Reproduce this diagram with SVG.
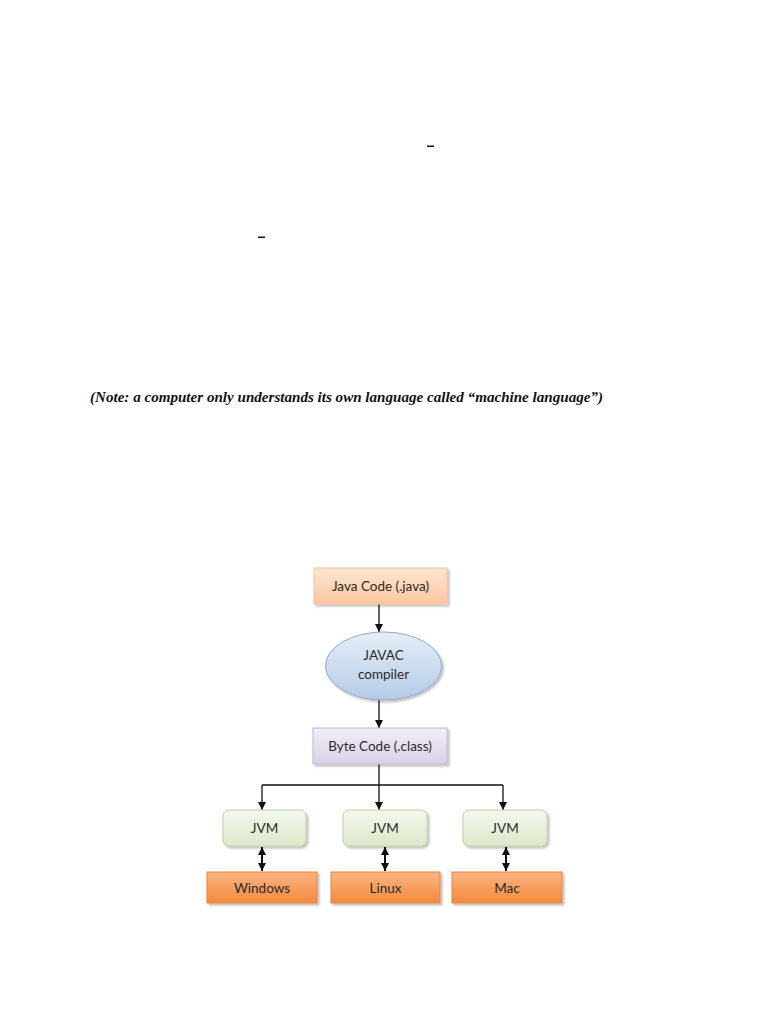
<svg xmlns="http://www.w3.org/2000/svg" width="768" height="1024" viewBox="0 0 768 1024">
<defs>
<linearGradient id="gPeach" x1="0" y1="0" x2="0" y2="1"><stop offset="0" stop-color="#fde6d2"/><stop offset="1" stop-color="#fac7a0"/></linearGradient>
<linearGradient id="gBlue" x1="0" y1="0" x2="0" y2="1"><stop offset="0" stop-color="#e6eef8"/><stop offset="1" stop-color="#b4cbe6"/></linearGradient>
<linearGradient id="gPurple" x1="0" y1="0" x2="0" y2="1"><stop offset="0" stop-color="#f3eef7"/><stop offset="1" stop-color="#dcd0e8"/></linearGradient>
<linearGradient id="gGreen" x1="0" y1="0" x2="0" y2="1"><stop offset="0" stop-color="#f4f8ee"/><stop offset="1" stop-color="#dbe8c9"/></linearGradient>
<linearGradient id="gOrange" x1="0" y1="0" x2="0" y2="1"><stop offset="0" stop-color="#fbb482"/><stop offset="1" stop-color="#f38a3e"/></linearGradient>
<marker id="ah" viewBox="0 0 10 10" refX="10" refY="5" markerWidth="8" markerHeight="8" orient="auto-start-reverse" markerUnits="userSpaceOnUse"><path d="M0,0 L10,5 L0,10 z" fill="#111"/></marker>
<filter id="sh" x="-10%" y="-10%" width="130%" height="140%"><feDropShadow dx="2" dy="2" stdDeviation="1" flood-color="#000" flood-opacity="0.25"/></filter>
</defs>
<style>
.lbl{font-family:Lato,"Noto Sans","Liberation Sans",sans-serif;font-size:13.5px;fill:#2a2a2a;text-anchor:middle}
.ln{stroke:#111;stroke-width:1.3;fill:none}
.dbl{stroke:#111;stroke-width:2;fill:none}
</style>
<rect width="768" height="1024" fill="#fff"/>
<rect x="427" y="145.5" width="7" height="1.5" fill="#111"/>
<rect x="258" y="236.5" width="7" height="1.5" fill="#111"/>
<text x="90" y="402" font-family="'Liberation Serif',serif" font-size="15" font-weight="bold" font-style="italic" fill="#111" textLength="513" lengthAdjust="spacingAndGlyphs">(Note: a computer only understands its own language called “machine language”)</text>
<g id="connectors">
<line class="ln" x1="379" y1="604" x2="379" y2="632" marker-end="url(#ah)"/>
<line class="ln" x1="379" y1="700" x2="379" y2="728" marker-end="url(#ah)"/>
<line class="ln" x1="262" y1="785" x2="503" y2="785"/>
<line class="ln" x1="262" y1="785" x2="262" y2="810" marker-end="url(#ah)"/>
<line class="ln" x1="379" y1="764" x2="379" y2="810" marker-end="url(#ah)"/>
<line class="ln" x1="503" y1="785" x2="503" y2="810" marker-end="url(#ah)"/>
<line class="dbl" x1="262" y1="847" x2="262" y2="871" marker-start="url(#ah)" marker-end="url(#ah)"/>
<line class="dbl" x1="385" y1="847" x2="385" y2="871" marker-start="url(#ah)" marker-end="url(#ah)"/>
<line class="dbl" x1="506" y1="847" x2="506" y2="871" marker-start="url(#ah)" marker-end="url(#ah)"/>
</g>
<g id="java-code">
<rect x="314" y="568" width="133" height="36" fill="url(#gPeach)" stroke="#f2c09c" stroke-width="1" filter="url(#sh)"/>
<text class="lbl" x="380.5" y="591">Java Code (.java)</text>
</g>
<g id="javac">
<ellipse cx="383.5" cy="666" rx="58" ry="34" fill="url(#gBlue)" stroke="#8eaad0" stroke-width="1" filter="url(#sh)"/>
<text class="lbl" x="383.5" y="660">JAVAC</text>
<text class="lbl" x="383.5" y="679">compiler</text>
</g>
<g id="byte-code">
<rect x="313" y="728" width="134" height="36" fill="url(#gPurple)" stroke="#c2b4d6" stroke-width="1" filter="url(#sh)"/>
<text class="lbl" x="380" y="751">Byte Code (.class)</text>
</g>
<g id="jvm1">
<rect x="223" y="810" width="83" height="36" rx="6" fill="url(#gGreen)" stroke="#bcd2a0" stroke-width="1" filter="url(#sh)"/>
<text class="lbl" x="264.5" y="832.5">JVM</text>
</g>
<g id="jvm2">
<rect x="343" y="810" width="84" height="36" rx="6" fill="url(#gGreen)" stroke="#bcd2a0" stroke-width="1" filter="url(#sh)"/>
<text class="lbl" x="385" y="832.5">JVM</text>
</g>
<g id="jvm3">
<rect x="463" y="810" width="84" height="36" rx="6" fill="url(#gGreen)" stroke="#bcd2a0" stroke-width="1" filter="url(#sh)"/>
<text class="lbl" x="505" y="832.5">JVM</text>
</g>
<g id="windows">
<rect x="207" y="872" width="110" height="31" fill="url(#gOrange)" stroke="#e8843c" stroke-width="1" filter="url(#sh)"/>
<text class="lbl" x="262" y="892.5">Windows</text>
</g>
<g id="linux">
<rect x="331" y="872" width="109" height="31" fill="url(#gOrange)" stroke="#e8843c" stroke-width="1" filter="url(#sh)"/>
<text class="lbl" x="385.5" y="892.5">Linux</text>
</g>
<g id="mac">
<rect x="452" y="872" width="110" height="31" fill="url(#gOrange)" stroke="#e8843c" stroke-width="1" filter="url(#sh)"/>
<text class="lbl" x="507" y="892.5">Mac</text>
</g>
</svg>
